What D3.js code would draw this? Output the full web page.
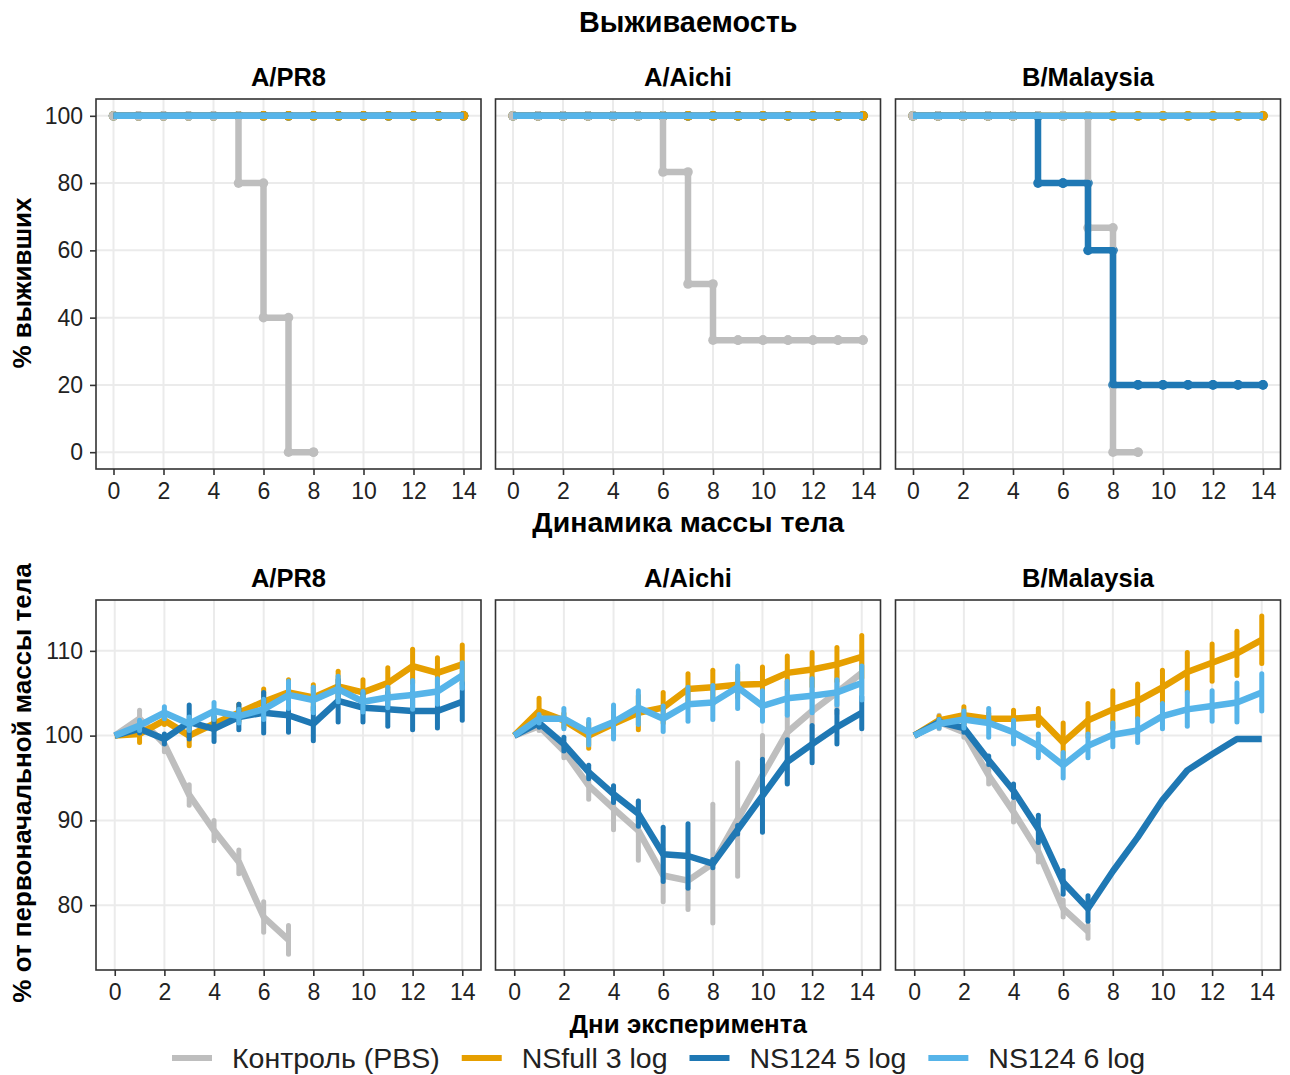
<!DOCTYPE html>
<html>
<head>
<meta charset="utf-8">
<script src="https://cdn.jsdelivr.net/npm/d3@7"></script>
<style>
  body { margin: 0; background: #fff; }
  svg { font-family: "Liberation Sans", Arial, sans-serif; }
</style>
</head>
<body>
<div id="chart"></div>
<script>
// ---- data ----
const days = [0, 1, 2, 3, 4, 5, 6, 7, 8, 9, 10, 11, 12, 13, 14];
const strains = ["A/PR8", "A/Aichi", "B/Malaysia"];
const groups = ["Контроль (PBS)", "NSfull 3 log", "NS124 5 log", "NS124 6 log"];
const groupColors = ["#BEBEBE", "#E69F00", "#1F78B4", "#56B4E9"];
const survTicks = [0, 20, 40, 60, 80, 100];
const weightTicks = [80, 90, 100, 110];
const dayTicks = [0, 2, 4, 6, 8, 10, 12, 14];

// survival, % per day
const survPR8Control = [100, 100, 100, 100, 100, 80, 40, 0, 0];
const survPR8NSfull = [100, 100, 100, 100, 100, 100, 100, 100, 100, 100, 100, 100, 100, 100, 100];
const survPR8NS5 = [100, 100, 100, 100, 100, 100, 100, 100, 100, 100, 100, 100, 100, 100, 100];
const survPR8NS6 = [100, 100, 100, 100, 100, 100, 100, 100, 100, 100, 100, 100, 100, 100, 100];
const survAichiControl = [100, 100, 100, 100, 100, 100, 83.3, 50, 33.3, 33.3, 33.3, 33.3, 33.3, 33.3, 33.3];
const survAichiNSfull = [100, 100, 100, 100, 100, 100, 100, 100, 100, 100, 100, 100, 100, 100, 100];
const survAichiNS5 = [100, 100, 100, 100, 100, 100, 100, 100, 100, 100, 100, 100, 100, 100, 100];
const survAichiNS6 = [100, 100, 100, 100, 100, 100, 100, 100, 100, 100, 100, 100, 100, 100, 100];
const survMalControl = [100, 100, 100, 100, 100, 100, 100, 66.7, 0, 0];
const survMalNSfull = [100, 100, 100, 100, 100, 100, 100, 100, 100, 100, 100, 100, 100, 100, 100];
const survMalNS5 = [100, 100, 100, 100, 100, 80, 80, 60, 20, 20, 20, 20, 20, 20, 20];
const survMalNS6 = [100, 100, 100, 100, 100, 100, 100, 100, 100, 100, 100, 100, 100, 100, 100];

// body weight, % of initial (mean and error)
const wPR8Control = [100, 102.0, 99.0, 93.0, 88.8, 85.1, 78.6, 75.9];
const ePR8Control = [0, 1.0, 0.9, 1.2, 1.2, 1.4, 1.8, 1.7];
const wPR8NSfull = [100, 100.2, 101.8, 100.0, 101.4, 102.7, 104.0, 105.1, 104.5, 105.8, 105.1, 106.2, 108.2, 107.4, 108.4];
const ePR8NSfull = [0, 1.0, 0.5, 1.2, 0.8, 1.0, 1.5, 1.5, 1.5, 1.8, 1.5, 1.8, 2.0, 1.8, 2.3];
const wPR8NS5 = [100, 100.8, 99.6, 101.6, 100.8, 102.2, 102.7, 102.4, 101.4, 104.1, 103.3, 103.1, 102.9, 102.9, 104.0];
const ePR8NS5 = [0, 0.5, 0.6, 2.0, 1.5, 1.5, 2.4, 2.0, 2.0, 2.5, 1.7, 2.0, 2.2, 2.0, 2.2];
const wPR8NS6 = [100, 101.2, 102.7, 101.4, 102.9, 102.3, 103.1, 104.8, 104.2, 105.5, 104.0, 104.5, 104.8, 105.2, 107.1];
const ePR8NS6 = [0, 0.6, 0.7, 0.8, 1.0, 0.8, 1.2, 1.6, 1.5, 1.5, 1.2, 1.2, 1.7, 1.5, 1.5];

const wAichiControl = [100, 101.1, 98.2, 94.1, 91.4, 88.8, 83.5, 82.9, 84.9, 90.1, 95.3, 100.4, 102.9, 105.1, 107.4];
const eAichiControl = [0, 0.5, 0.8, 1.6, 2.5, 3.5, 3.1, 3.4, 7.0, 6.7, 4.7, 6.0, 4.0, 2.5, 2.5];
const wAichiNSfull = [100, 102.9, 101.8, 100.0, 101.4, 102.7, 103.3, 105.5, 105.7, 106.0, 106.1, 107.4, 107.8, 108.4, 109.3];
const eAichiNSfull = [0, 1.5, 0.8, 1.5, 1.3, 2.0, 1.8, 1.8, 2.0, 1.5, 2.0, 2.0, 2.0, 2.0, 2.5];
const wAichiNS5 = [100, 101.5, 99.0, 95.7, 93.1, 90.8, 86.0, 85.8, 84.9, 88.9, 92.9, 96.9, 99.0, 101.0, 102.7];
const eAichiNS5 = [0, 0.5, 0.8, 0.8, 1.0, 1.5, 3.2, 3.8, 0.5, 0.5, 4.3, 2.6, 2.2, 2.0, 1.9];
const wAichiNS6 = [100, 102.0, 102.0, 100.4, 101.6, 103.3, 102.0, 103.7, 103.9, 105.7, 103.5, 104.4, 104.7, 105.1, 106.2];
const eAichiNS6 = [0, 0.5, 1.2, 1.5, 2.0, 2.0, 1.5, 2.0, 2.0, 2.5, 1.8, 2.0, 2.0, 1.5, 2.0];

const wMalControl = [100, 101.6, 100.4, 95.3, 91.0, 86.3, 79.6, 76.9];
const eMalControl = [0, 0.8, 0.6, 1.0, 1.2, 1.2, 1.0, 0.8];
const wMalNSfull = [100, 101.8, 102.4, 102.0, 102.0, 102.2, 99.2, 101.8, 103.1, 104.1, 105.7, 107.5, 108.6, 109.7, 111.3];
const eMalNSfull = [0, 0.5, 1.0, 0.6, 1.0, 1.0, 2.3, 2.0, 2.2, 2.0, 2.0, 2.3, 2.2, 2.6, 2.8];
const wMalNS5 = [100, 101.6, 100.9, 97.1, 93.5, 89.0, 82.7, 79.6, 84.0, 88.0, 92.4, 95.9, 97.8, 99.6, 99.6];
const eMalNS5 = [0, 0.3, 0.5, 0.5, 0.8, 1.6, 1.4, 1.5, 0, 0, 0, 0, 0, 0, 0];
const wMalNS6 = [100, 101.4, 101.9, 101.5, 100.4, 98.8, 96.5, 98.8, 100.1, 100.6, 102.3, 103.1, 103.5, 103.9, 105.1];
const eMalNS6 = [0, 0.5, 1.0, 1.7, 1.4, 1.4, 1.5, 1.4, 1.4, 1.4, 1.5, 2.0, 1.8, 2.3, 2.2];

const survival = [
  [survPR8Control, survPR8NSfull, survPR8NS5, survPR8NS6],
  [survAichiControl, survAichiNSfull, survAichiNS5, survAichiNS6],
  [survMalControl, survMalNSfull, survMalNS5, survMalNS6]
];
const weight = [
  [[wPR8Control, ePR8Control], [wPR8NSfull, ePR8NSfull], [wPR8NS5, ePR8NS5], [wPR8NS6, ePR8NS6]],
  [[wAichiControl, eAichiControl], [wAichiNSfull, eAichiNSfull], [wAichiNS5, eAichiNS5], [wAichiNS6, eAichiNS6]],
  [[wMalControl, eMalControl], [wMalNSfull, eMalNSfull], [wMalNS5, eMalNS5], [wMalNS6, eMalNS6]]
];

// ---- layout ----
const width = 1290, height = 1075;
const panelW = 385, panelH = 370;
const panelLeft = [96, 495.5, 895.5];
const topY = 99, botY = 600;

const svg = d3.select("#chart").append("svg")
  .attr("width", width).attr("height", height);

const xTop = d3.scaleLinear().domain([-0.7, 14.7]).range([0, panelW]);
const xBot = d3.scaleLinear().domain([-0.755, 14.755]).range([0, panelW]);
const yTop = d3.scaleLinear().domain([-5, 105]).range([panelH, 0]);
const yBot = d3.scaleLinear().domain([72.35, 116]).range([panelH, 0]);

function grid(g, x, y, yTicks) {
  g.append("g").selectAll("line").data(dayTicks).enter().append("line")
    .attr("x1", d => x(d)).attr("x2", d => x(d))
    .attr("y1", 0).attr("y2", panelH)
    .attr("stroke", "#EBEBEB").attr("stroke-width", 2);
  g.append("g").selectAll("line").data(yTicks).enter().append("line")
    .attr("x1", 0).attr("x2", panelW)
    .attr("y1", d => y(d)).attr("y2", d => y(d))
    .attr("stroke", "#EBEBEB").attr("stroke-width", 2);
}

function axes(g, x, y, yTicks, showY) {
  const xa = g.append("g").attr("transform", `translate(0,${panelH})`)
    .call(d3.axisBottom(x).tickValues(dayTicks).tickSize(6).tickPadding(8));
  styleAxis(xa);
  if (showY) {
    const ya = g.append("g")
      .call(d3.axisLeft(y).tickValues(yTicks).tickSize(6).tickPadding(7));
    styleAxis(ya);
  }
}

function styleAxis(a) {
  a.select(".domain").remove();
  a.selectAll(".tick line").attr("stroke", "#333").attr("stroke-width", 1.6);
  a.selectAll(".tick text").attr("fill", "#222")
    .style("font-size", "23px").style("font-family", "'Liberation Sans', Arial, sans-serif");
}

function border(g) {
  g.append("rect").attr("width", panelW).attr("height", panelH)
    .attr("fill", "none").attr("stroke", "#333").attr("stroke-width", 1.6);
}

function stripLabel(g, text, yPos) {
  g.append("text").attr("x", panelW / 2).attr("y", yPos)
    .attr("text-anchor", "middle").attr("dy", "0.35em")
    .style("font-size", "25.5px").style("font-weight", "bold")
    .text(text);
}

// ---- survival panels ----
strains.forEach((strain, si) => {
  const g = svg.append("g").attr("transform", `translate(${panelLeft[si]},${topY})`);
  grid(g, xTop, yTop, survTicks);

  // step vertices for each group
  const steps = survival[si].map(vals => {
    const pts = [];
    vals.forEach((v, i) => {
      pts.push([days[i], v]);
      if (i < vals.length - 1) pts.push([days[i + 1], v]);
    });
    return pts;
  });

  // points first (last group lowest), then lines
  [3, 2, 1, 0].forEach(gi => {
    g.append("g").selectAll("circle").data(steps[gi]).enter().append("circle")
      .attr("cx", d => xTop(d[0])).attr("cy", d => yTop(d[1]))
      .attr("r", 4.8).attr("fill", groupColors[gi]);
  });
  const line = d3.line().x(d => xTop(d[0])).y(d => yTop(d[1]));
  [0, 1, 2, 3].forEach(gi => {
    g.append("path").datum(steps[gi]).attr("d", line)
      .attr("fill", "none").attr("stroke", groupColors[gi])
      .attr("stroke-width", 6.5).attr("stroke-linejoin", "round");
  });

  border(g);
  axes(g, xTop, yTop, survTicks, si === 0);
  stripLabel(g, strain, 77 - topY);
});

// ---- body weight panels ----
strains.forEach((strain, si) => {
  const g = svg.append("g").attr("transform", `translate(${panelLeft[si]},${botY})`);
  grid(g, xBot, yBot, weightTicks);

  weight[si].forEach(([means, errs], gi) => {
    const pts = means.map((m, i) => ({ day: days[i], m: m, e: errs[i] }));
    g.append("g").selectAll("line").data(pts.filter(d => d.e > 0)).enter().append("line")
      .attr("x1", d => xBot(d.day)).attr("x2", d => xBot(d.day))
      .attr("y1", d => yBot(d.m - d.e)).attr("y2", d => yBot(d.m + d.e))
      .attr("stroke", groupColors[gi]).attr("stroke-width", 5)
      .attr("stroke-linecap", "round");
    g.append("path").datum(pts)
      .attr("d", d3.line().x(d => xBot(d.day)).y(d => yBot(d.m)))
      .attr("fill", "none").attr("stroke", groupColors[gi])
      .attr("stroke-width", 6.5).attr("stroke-linejoin", "round");
  });

  border(g);
  axes(g, xBot, yBot, weightTicks, si === 0);
  stripLabel(g, strain, 578 - botY);
});

// ---- titles ----
const midX = (panelLeft[0] + panelLeft[2] + panelW) / 2;
function title(text, x, y, size, rotate) {
  const t = svg.append("text").attr("text-anchor", "middle").attr("dy", "0.35em")
    .style("font-size", size + "px").style("font-weight", "bold").text(text);
  if (rotate) t.attr("transform", `translate(${x},${y}) rotate(-90)`);
  else t.attr("x", x).attr("y", y);
}
title("Выживаемость", midX, 22, 28.8);
title("Динамика массы тела", midX, 522, 28.5);
title("Дни эксперимента", midX, 1024, 26);
title("% выживших", 22, 283, 26, true);
title("% от первоначальной массы тела", 22, 783, 26, true);

// ---- legend ----
const legend = svg.append("g").attr("transform", "translate(172,1058)");
let lx = 0;
groups.forEach((name, gi) => {
  legend.append("line").attr("x1", lx).attr("x2", lx + 40)
    .attr("y1", 0).attr("y2", 0)
    .attr("stroke", groupColors[gi]).attr("stroke-width", 6);
  const t = legend.append("text").attr("x", lx + 60).attr("y", 0).attr("dy", "0.35em")
    .style("font-size", "28.5px").attr("fill", "#222").text(name);
  lx += 60 + t.node().getComputedTextLength() + 22;
});
</script>
</body>
</html>
